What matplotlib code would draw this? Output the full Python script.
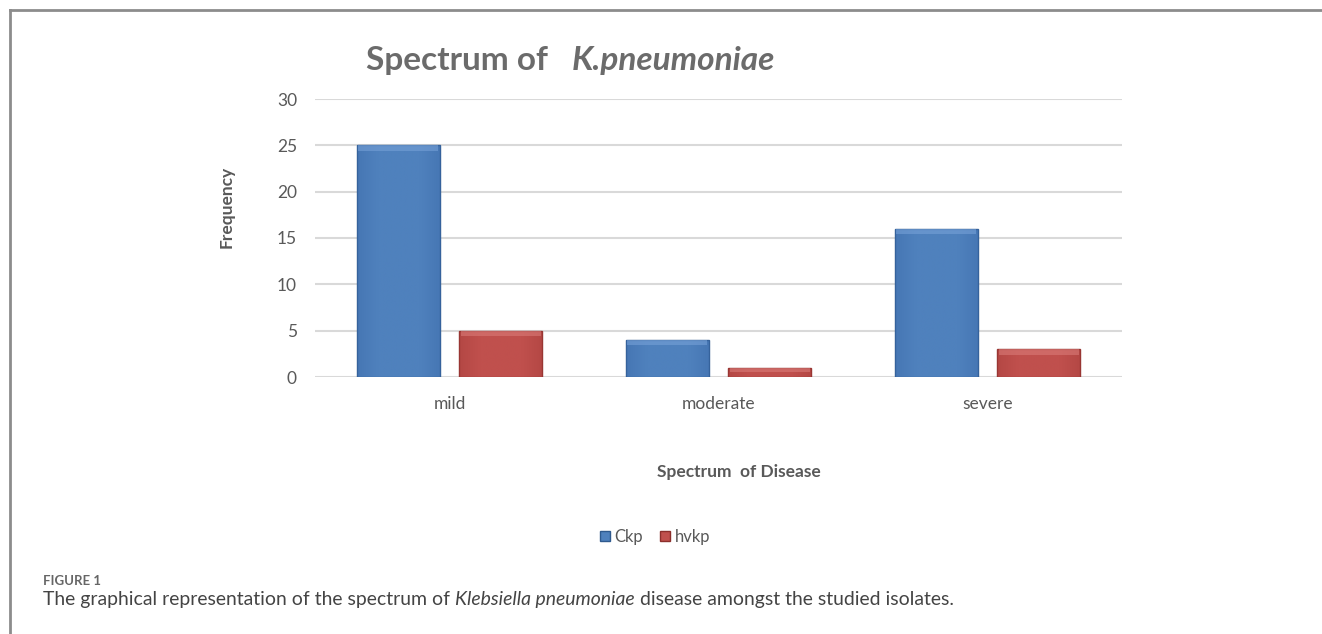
import matplotlib
matplotlib.use("Agg")
import matplotlib.pyplot as plt
import numpy as np
from matplotlib.colors import LinearSegmentedColormap

categories = ["mild", "moderate", "severe"]
series_names = ["Ckp", "hvkp"]
ckp_values = [25, 4, 16]
hvkp_values = [5, 1, 3]
y_ticks = [0, 5, 10, 15, 20, 25, 30]

plt.rcParams['font.family'] = ['Lato', 'DejaVu Sans']

W, H = 1322, 634
fig = plt.figure(figsize=(W / 100, H / 100), dpi=100)

def fx(px):
    return px / W

def fy(py):
    return 1 - py / H

ax = fig.add_axes([fx(315), fy(377), fx(1122) - fx(315), fy(99) - fy(377)])

x = np.arange(len(categories))
bw = 0.31
off = 0.19
colors = ["#4f81bd", "#c0504d"]
edges = ["#2f5a8e", "#8c2f2c"]
light = ["#7aa4da", "#dc7f7c"]
dark = ["#3d6cab", "#a83f3c"]

bars1 = ax.bar(x - off, ckp_values, bw, color=colors[0], edgecolor=edges[0], linewidth=1.0, zorder=3, label=series_names[0])
bars2 = ax.bar(x + off, hvkp_values, bw, color=colors[1], edgecolor=edges[1], linewidth=1.0, zorder=3, label=series_names[1])

# subtle bevel-like gradient inside each bar
for bars, i in ((bars1, 0), (bars2, 1)):
    cmap = LinearSegmentedColormap.from_list("g%d" % i, [dark[i], colors[i], colors[i], colors[i], dark[i]])
    grad = np.linspace(0, 1, 256).reshape(1, -1)
    for b in bars:
        bx, by = b.get_x(), b.get_y()
        bwid, bh = b.get_width(), b.get_height()
        im = ax.imshow(grad, cmap=cmap, aspect='auto', extent=(bx, bx + bwid, by, by + bh),
                       zorder=3.5, alpha=0.5, vmin=0, vmax=1)
        im.set_clip_path(b)
        top = min(0.6, bh * 0.5)
        ax.bar(bx + bwid / 2, top, bwid * 0.96, bottom=by + bh - top, color=light[i],
               alpha=0.55, linewidth=0, zorder=3.6)

ax.set_xlim(-0.5, 2.5)
ax.set_ylim(0, 30)
ax.set_yticks(y_ticks)
ax.set_xticks(x)
ax.set_xticklabels(categories)
ax.yaxis.grid(True, color="#d9d9d9", linewidth=1.5, zorder=0)
ax.set_axisbelow(True)
for s in ax.spines.values():
    s.set_visible(False)
ax.tick_params(axis='y', length=0, pad=13, labelsize=12.5, labelcolor="#595959")
ax.tick_params(axis='x', length=0, pad=14, labelsize=12.5, labelcolor="#595959")

# title
fig.text(fx(366), fy(70), "Spectrum of", fontsize=24, fontweight='bold', color="#6b6b6b", ha='left', va='baseline')
fig.text(fx(572), fy(70), "K.pneumoniae", fontsize=24, fontweight='bold', style='italic', color="#6b6b6b", ha='left', va='baseline')

# axis labels
fig.text(fx(227), fy(207), "Frequency", rotation=90, fontsize=12.5, fontweight='bold', color="#595959", ha='center', va='center')
fig.text(fx(739), fy(472), "Spectrum  of Disease", fontsize=12.5, fontweight='bold', color="#595959", ha='center', va='center')

# legend
fig.legend(handles=[bars1, bars2], labels=series_names, loc='center', bbox_to_anchor=(fx(655), fy(537)),
           ncol=2, frameon=False, fontsize=12, handlelength=0.6, handleheight=0.6, handletextpad=0.3,
           columnspacing=1.0, labelcolor="#595959")

# outer frame
fig.add_artist(plt.Line2D([fx(10), fx(10)], [fy(10), 0], color="#8c8c8c", linewidth=2, transform=fig.transFigure))
fig.add_artist(plt.Line2D([fx(10), 1], [fy(10), fy(10)], color="#8c8c8c", linewidth=2, transform=fig.transFigure))

# caption
fig.text(fx(43), fy(585), "FIGURE 1", fontsize=9.5, fontweight='bold', color="#666666", ha='left', va='baseline')
parts = [("The graphical representation of the spectrum of ", 'normal'),
         ("Klebsiella pneumoniae", 'italic'),
         (" disease amongst the studied isolates.", 'normal')]
renderer = fig.canvas.get_renderer()

def place_caption(size, draw=True):
    xpos = fx(43)
    texts = []
    for txt, st in parts:
        t = fig.text(xpos, fy(605), txt, fontsize=size, style=st, color="#444444", ha='left', va='baseline')
        bb = t.get_window_extent(renderer=renderer)
        xpos = bb.x1 / W
        texts.append(t)
    return texts, xpos * W

texts, xend = place_caption(12.5)
target_end = 958
scale = (target_end - 43) / (xend - 43)
new_size = max(10.5, min(14.5, 12.5 * scale))
for t in texts:
    t.remove()
place_caption(new_size)

fig.savefig("out.png", dpi=100)
